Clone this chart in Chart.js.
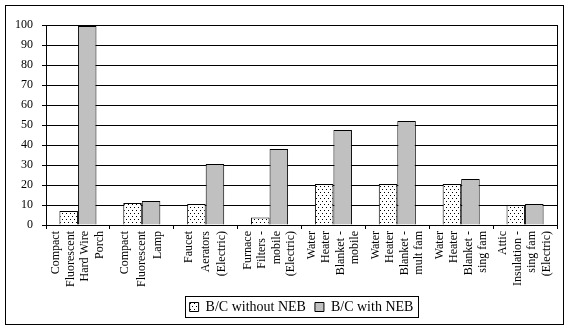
<!DOCTYPE html>
<html>
<head>
<meta charset="utf-8">
<script src="https://cdn.jsdelivr.net/npm/chart.js@4"></script>
<style>
  html, body { margin: 0; padding: 0; background: #fff; }
  #wrap { width: 570px; height: 330px; }
</style>
</head>
<body>
<div id="wrap"><canvas id="myChart" width="570" height="330"></canvas></div>
<script>
// Data
const categories = [
    ['Compact', 'Fluorescent', 'Hard Wire', 'Porch'],
    ['Compact', 'Fluorescent', 'Lamp'],
    ['Faucet', 'Aerators', '(Electric)'],
    ['Furnace', 'Filters -', 'mobile', '(Electric)'],
    ['Water', 'Heater', 'Blanket -', 'mobile'],
    ['Water', 'Heater', 'Blanket -', 'mult fam'],
    ['Water', 'Heater', 'Blanket -', 'sing fam'],
    ['Attic', 'Insulation -', 'sing fam', '(Electric)']
];
const seriesNames = ['B/C without NEB', 'B/C with NEB'];
const withoutNEB = [7, 11, 10.5, 3.7, 20.5, 20.5, 20.5, 10];
const withNEB = [99.5, 12, 30.5, 38, 47.5, 52, 23, 10.5];
const yTicks = { min: 0, max: 100, step: 10 };

// Motif pointillé
function dotPattern() {
    const c = document.createElement('canvas');
    c.width = 4;
    c.height = 6;
    const g = c.getContext('2d');
    g.fillStyle = '#fff';
    g.fillRect(0, 0, 4, 6);
    g.fillStyle = '#000';
    g.fillRect(0, 0, 1, 1);
    g.fillRect(2, 3, 1, 1);
    return g.createPattern(c, 'repeat');
}

const font = 'Liberation Serif, Times New Roman, serif';

// Décalage de la légende vers la droite
const legendShift = {
    id: 'legendShift',
    afterLayout(chart) {
        chart.legend.left += 20;
        chart.legend.right += 20;
    }
};

// Étiquettes de catégorie, verticales et centrées sur chaque graduation
const catLabels = {
    id: 'catLabels',
    afterDraw(chart) {
        const ctx = chart.ctx;
        const scale = chart.scales.x;
        ctx.save();
        ctx.fillStyle = '#000';
        ctx.font = '12px ' + font;
        ctx.textAlign = 'right';
        ctx.textBaseline = 'middle';
        for (let i = 0; i < categories.length; i++) {
            const lines = categories[i];
            const x = scale.getPixelForTick(i);
            const step = lines.length === 3 ? 16.5 : 14.5;
            for (let j = 0; j < lines.length; j++) {
                const lx = x + (j - (lines.length - 1) / 2) * step;
                ctx.save();
                ctx.translate(lx, scale.top + 6);
                ctx.rotate(-Math.PI / 2);
                ctx.fillText(lines[j], 0, 0);
                ctx.restore();
            }
        }
        ctx.restore();
    }
};

// Cadres : graphique entier, zone de tracé, légende
const framePlugin = {
    id: 'frames',
    afterDraw(chart) {
        const ctx = chart.ctx;
        const a = chart.chartArea;
        ctx.save();
        ctx.strokeStyle = '#000';
        ctx.lineWidth = 1;
        ctx.strokeRect(5.5, 5.5, 558, 319);
        ctx.beginPath();
        ctx.moveTo(Math.round(a.right) + 0.5, a.top);
        ctx.lineTo(Math.round(a.right) + 0.5, a.bottom);
        ctx.stroke();
        const boxes = chart.legend.legendHitBoxes;
        if (boxes && boxes.length) {
            let l = Infinity, r = -Infinity, t = Infinity, b = -Infinity;
            for (let i = 0; i < boxes.length; i++) {
                l = Math.min(l, boxes[i].left);
                r = Math.max(r, boxes[i].left + boxes[i].width);
                t = Math.min(t, boxes[i].top);
                b = Math.max(b, boxes[i].top + boxes[i].height);
            }
            ctx.strokeRect(Math.round(l - 5) + 0.5, Math.round(t - 4) + 0.5,
                Math.round(r - l + 9), Math.round(b - t + 7));
        }
        ctx.restore();
    }
};

const ctx = document.getElementById('myChart');
const chart = new Chart(ctx, {
    type: 'bar',
    data: {
        labels: categories,
        datasets: [{
            label: seriesNames[0],
            data: withoutNEB,
            backgroundColor: dotPattern(),
            borderColor: '#000',
            borderWidth: 1
        }, {
            label: seriesNames[1],
            data: withNEB,
            backgroundColor: '#c0c0c0',
            borderColor: '#000',
            borderWidth: 1
        }]
    },
    options: {
        responsive: false,
        animation: false,
        devicePixelRatio: 1,
        datasets: {
            bar: { categoryPercentage: 0.58, barPercentage: 1.0 }
        },
        layout: { padding: { left: 6, right: 13, top: 25, bottom: 6 } },
        scales: {
            x: {
                grid: { display: true, drawOnChartArea: false, color: '#000', tickLength: 4, offset: true },
                border: { color: '#000' },
                ticks: { display: false },
                afterFit(scale) { scale.height = 66; }
            },
            y: {
                min: yTicks.min,
                max: yTicks.max,
                grid: { color: '#000', tickLength: 4 },
                border: { color: '#000' },
                ticks: {
                    stepSize: yTicks.step,
                    color: '#000',
                    font: { family: font, size: 12 },
                    padding: 9
                },
                afterFit(scale) { scale.width = 40; }
            }
        },
        plugins: {
            legend: {
                position: 'bottom',
                labels: {
                    color: '#000',
                    font: { family: font, size: 14 },
                    boxWidth: 9,
                    boxHeight: 9,
                    padding: 9
                }
            },
            tooltip: { enabled: false }
        }
    },
    plugins: [legendShift, catLabels, framePlugin]
});
</script>
</body>
</html>
